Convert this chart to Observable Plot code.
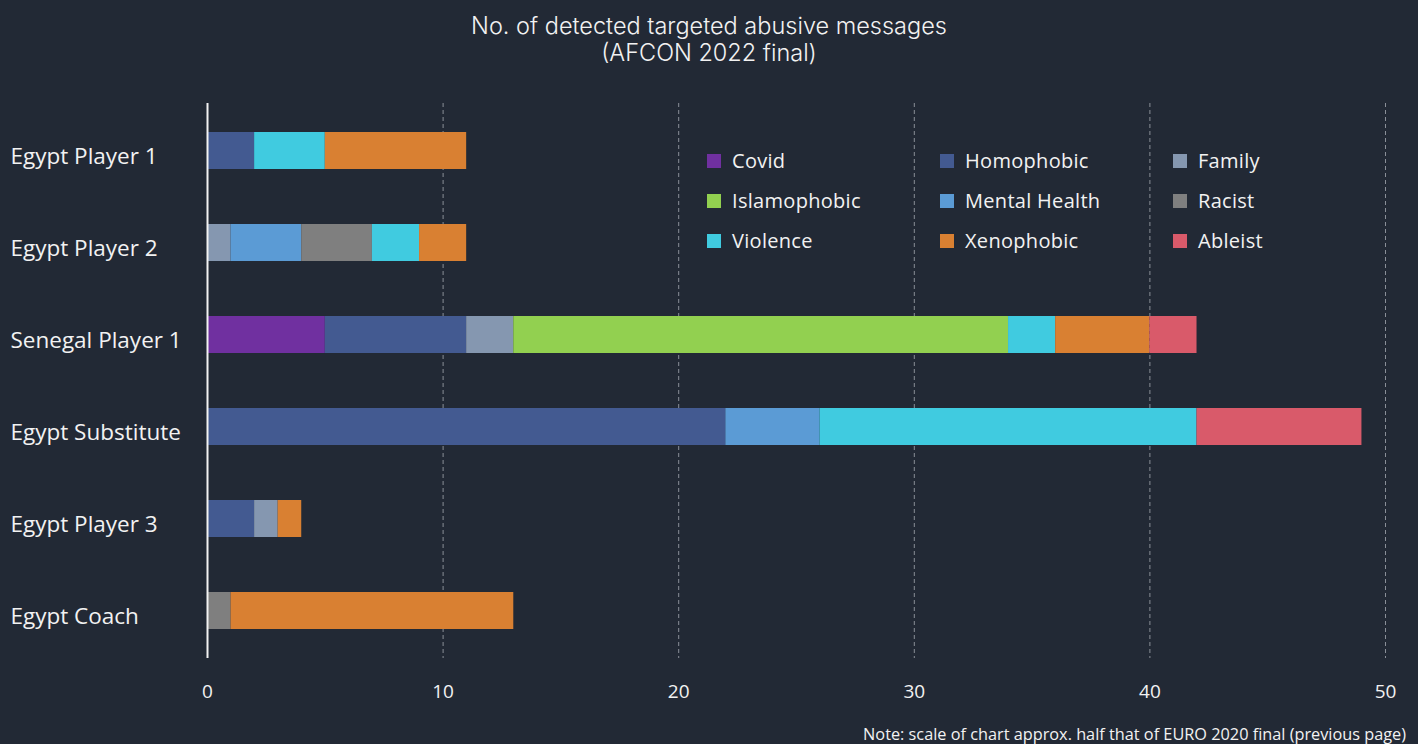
<!DOCTYPE html>
<html>
<head>
<meta charset="utf-8">
<script src="https://cdn.jsdelivr.net/npm/d3@7"></script>
<script src="https://cdn.jsdelivr.net/npm/@observablehq/plot@0.6"></script>
<style>
  html, body { margin: 0; padding: 0; background: #222935; width: 1418px; height: 744px; overflow: hidden; }
  #wrap { position: relative; width: 1418px; height: 744px; }
  #title { position: absolute; left: 0; top: 12px; width: 1418px; text-align: center; color: #f2f2f2;
           font-family: Inter, "Open Sans", sans-serif; font-weight: 300; font-size: 23.5px; line-height: 27px; }
  #chart { position: absolute; left: 0; top: 80px; }
  #note { position: absolute; right: 12px; top: 723px; color: #f2f2f2; font-family: "Open Sans", sans-serif; font-size: 16.3px; }
  #legend { position: absolute; left: 707px; top: 147px; }
  .item { position: absolute; display: flex; align-items: center; color: #f2f2f2;
          font-family: "Open Sans", sans-serif; font-size: 20px; letter-spacing: 0.3px; white-space: nowrap; }
  .sw { width: 14px; height: 14px; margin-right: 11px; }
</style>
</head>
<body>
<div id="wrap">
  <div id="title">No. of detected targeted abusive messages<br>(AFCON 2022 final)</div>
  <div id="chart"></div>
  <div id="legend"></div>
  <div id="note">Note: scale of chart approx. half that of EURO 2020 final (previous page)</div>
</div>
<script>
const rows = ["Egypt Player 1", "Egypt Player 2", "Senegal Player 1", "Egypt Substitute", "Egypt Player 3", "Egypt Coach"];
const types = ["Covid", "Homophobic", "Family", "Islamophobic", "Mental Health", "Racist", "Violence", "Xenophobic", "Ableist"];
const colors = ["#7030a0", "#435a91", "#8597b0", "#92d050", "#5b9bd5", "#7f7f7f", "#40cbe0", "#d98032", "#d95a6a"];

const covid        = [0, 0, 5, 0, 0, 0];
const homophobic   = [2, 0, 6, 22, 2, 0];
const family       = [0, 1, 2, 0, 1, 0];
const islamophobic = [0, 0, 21, 0, 0, 0];
const mentalHealth = [0, 3, 0, 4, 0, 0];
const racist       = [0, 3, 0, 0, 0, 1];
const violence     = [3, 2, 2, 16, 0, 0];
const xenophobic   = [6, 2, 4, 0, 1, 12];
const ableist      = [0, 0, 2, 7, 0, 0];
const xTicks = [0, 10, 20, 30, 40, 50];

const series = [covid, homophobic, family, islamophobic, mentalHealth, racist, violence, xenophobic, ableist];
const data = [];
types.forEach((t, i) => rows.forEach((r, j) => {
  if (series[i][j] > 0) data.push({row: r, type: t, value: series[i][j]});
}));

const plot = Plot.plot({
  width: 1418,
  height: 640,
  marginLeft: 207,
  marginRight: 33,
  marginTop: 23,
  marginBottom: 62,
  style: { background: "transparent", color: "#f2f2f2", fontFamily: "'Open Sans', sans-serif" },
  x: { domain: [0, 50] },
  y: { domain: rows, paddingInner: 0.6, paddingOuter: 0.3, axis: null },
  color: { domain: types, range: colors },
  marks: [
    Plot.ruleX(xTicks.filter(d => d > 0), { stroke: "#8a8f98", strokeWidth: 1, strokeDasharray: "4,3" }),
    Plot.barX(data, Plot.stackX({ x: "value", y: "row", fill: "type", order: types })),
    Plot.ruleX([0], { stroke: "#f2f2f2", strokeWidth: 2 }),
    Plot.axisX({ ticks: xTicks, tickSize: 0, tickPadding: 26, fontSize: 19, tickFormat: d => d, label: null, color: "#f2f2f2" }),
    Plot.text(rows, { x: () => 0, y: d => d, text: d => d, textAnchor: "start", dx: -197, dy: 6, fontSize: 22.5, fill: "#f2f2f2" })
  ]
});
document.getElementById("chart").appendChild(plot);

const legend = document.getElementById("legend");
types.forEach((t, i) => {
  const col = i % 3, row = Math.floor(i / 3);
  const el = document.createElement("div");
  el.className = "item";
  el.style.left = (col * 233) + "px";
  el.style.top = (row * 40) + "px";
  el.innerHTML = `<div class="sw" style="background:${colors[i]}"></div>${t}`;
  legend.appendChild(el);
});
</script>
</body>
</html>
